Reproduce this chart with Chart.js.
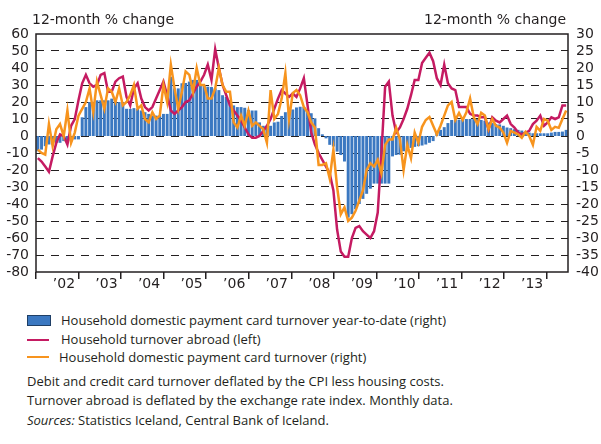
<!DOCTYPE html>
<html>
<head>
<meta charset="utf-8">
<script src="https://cdn.jsdelivr.net/npm/chart.js@4"></script>
<style>
body{margin:0;background:#fff;width:601px;height:444px;overflow:hidden;position:relative;color:#231f20}
#c{position:absolute;left:0;top:0}
.ttl{position:absolute;font:14px/16px "DejaVu Sans",sans-serif;white-space:nowrap}
.lg{position:absolute;font:13px/16px "Open Sans",sans-serif;white-space:nowrap}
.sw{position:absolute;left:27px;width:22px}
</style>
</head>
<body>
<canvas id="c" width="601" height="300"></canvas>
<div class="ttl" style="left:32px;top:11px">12-month % change</div>
<div class="ttl" style="left:424px;top:11px">12-month % change</div>

<div class="sw" style="top:315px;height:9px;background:#3b78c1;border:1px solid #1f3f66"></div>
<div class="lg" style="left:61px;top:312px">Household domestic payment card turnover year-to-date (right)</div>
<div class="sw" style="top:339px;height:2px;background:#c51b62"></div>
<div class="lg" style="left:61px;top:331px">Household turnover abroad (left)</div>
<div class="sw" style="top:356px;height:2px;background:#f7941e"></div>
<div class="lg" style="left:59px;top:349px">Household domestic payment card turnover (right)</div>

<div class="lg" style="left:27px;top:373px">Debit and credit card turnover deflated by the CPI less housing costs.</div>
<div class="lg" style="left:27px;top:392px">Turnover abroad is deflated by the exchange rate index. Monthly data.</div>
<div class="lg" style="left:27px;top:412px"><i>Sources:</i> Statistics Iceland, Central Bank of Iceland.</div>

<script>
// years on the x axis, one block of 12 months each
var years = ["\u201902","\u201903","\u201904","\u201905","\u201906","\u201907",
             "\u201908","\u201909","\u201910","\u201911","\u201912","\u201913"];

// household turnover abroad, left axis
var abroad = [
  -13,-15,-18,-21,-12,-4,1,0,-5,6,10,21,
  31,36,31,29,30,36,37,26,26,32,34,35,
  23,18,28,31,22,17,15,17,22,27,32,24,
  15,13,15,17,20,21,25,29,32,36,42,33,
  51,40,30,24,18,15,12,9,5,1,-1,-1,
  0,3,6,10,16,22,27,25,23,25,23,28,
  34,18,2,-5,-10,-14,-18,-22,-32,-55,-68,-71,
  -71,-60,-54,-53,-56,-58,-60,-56,-45,-10,29,32,
  12,2,5,10,16,24,33,33,43,46,49,44,
  34,30,42,31,28,27,17,17,17,13,12,12,
  11,11,4,11,9,8,10,12,7,5,2,1,
  2,3,7,9,12,6,8,11,10,11,18,18
];

// household domestic payment card turnover, right axis
var domestic = [
  -4,-5,-5.5,3.5,-3,2,3.5,0,7.5,-2,1,6,
  8,10,14,7,16,12,8,14,13,10,14,9,
  10,12,15,8,9,5,4,7,5,6,15,10,
  21,14,8,13,19,18,13,20,15,15,11,11,
  14,20,15,13,13,4,2.5,6,3,7.5,3,4,
  3,2,-2,13.5,5,6.5,11,18.5,5,12.6,13.5,12,
  8.5,7,4,2.5,-8.5,-8.5,-8,-12.5,-4,-15,-23,-21,
  -25,-24,-22,-19,-16,-10,-8,-9,-7,-11,-2.6,-1,
  -1,2.4,-1,-10,-2.6,-6.5,1,-2,2.7,4.7,5.6,3,
  0.5,3,6,9,10,4.7,6.8,4.7,7,11,5.5,3.5,
  6.8,6,2,5,3,2.5,1,-2,1.5,1,0.5,-0.5,
  1.2,0,-2.6,2.7,1.5,5,4.5,1.8,2.7,2.4,5,7.5
];

// household domestic payment card turnover year-to-date, right axis
var ytd = [
  -4.5,-4,-3,-2.5,-2.5,-2,-2,-1.5,-1.5,-1.5,-1,-1,
  5.5,8.5,10,10,10.5,10.5,10.5,10.5,11,10.5,10,10,
  8,8,8.2,8,7.5,7,6.5,6,6,6,6.5,6.5,
  17.4,14,14,15.5,15.6,16,16.5,16.5,15,15,14.5,14.4,
  14,13.5,12,11.5,10.6,9,8.5,8.5,8.3,7.6,7.5,7.5,
  4,3,2.7,3,4,4.2,5.9,7,7.4,7.8,8.4,8.6,
  8.5,7.6,6.7,5.2,2.3,0.5,-0.7,-2.6,-3.1,-4.6,-5.6,-7.5,
  -24,-23,-21.5,-20,-18.5,-17,-15.5,-14,-14,-14,-14,-14,
  -6,-5.6,-5.5,-4.5,-4,-3.5,-3.2,-3,-2.8,-2.5,-2,-1.5,
  1,1.8,2.6,3.8,4.7,4.7,4.8,5,5,5,5,5,
  4.7,4.5,4,3.8,3.5,3.4,3,2.5,2.3,2,1.8,1.6,
  1.2,1,0.8,0.8,0.8,0.8,0.8,1,1.2,1.2,1.3,1.8
];

var leftMin = -80, leftMax = 60, leftStep = 10;
var rightMin = -40, rightMax = 30, rightStep = 5;

var months = [];
years.forEach(function(y, i) {
  for (var m = 1; m <= 12; m++) months.push((2002 + i) + "-" + m);
});

var ink = "#231f20";
var tickFont = {family: "DejaVu Sans", size: 14};

// frame around the plot
var frame = {
  id: "frame",
  afterDatasetsDraw: function(chart) {
    var a = chart.chartArea, ctx = chart.ctx;
    ctx.save();
    ctx.strokeStyle = ink;
    ctx.lineWidth = 1.5;
    ctx.strokeRect(a.left, a.top, a.right - a.left, a.bottom - a.top);
    ctx.restore();
  }
};

new Chart(document.getElementById("c"), {
  type: "bar",
  data: {
    labels: months,
    datasets: [
      {type: "line", label: "Household domestic payment card turnover (right)", data: domestic,
       yAxisID: "y2", borderColor: "#f7941e", borderWidth: 2.5, pointRadius: 0, order: 1},
      {type: "line", label: "Household turnover abroad (left)", data: abroad,
       yAxisID: "y", borderColor: "#c51b62", borderWidth: 2.5, pointRadius: 0, order: 2},
      {label: "Household domestic payment card turnover year-to-date (right)", data: ytd,
       yAxisID: "y2", backgroundColor: "#3b78c1", barPercentage: 0.8, categoryPercentage: 1, order: 3}
    ]
  },
  options: {
    responsive: false,
    devicePixelRatio: 1,
    animation: false,
    layout: {padding: {top: 34, left: 0, right: 0, bottom: 0}},
    plugins: {legend: {display: false}, tooltip: {enabled: false}},
    scales: {
      x: {display: false, offset: true, grid: {display: false}},
      xt: {
        type: "linear", position: "bottom", min: 0, max: 12,
        afterBuildTicks: function(s) {
          var t = [];
          for (var v = 0; v <= 24; v++) t.push({value: v / 2});
          s.ticks = t;
        },
        afterFit: function(s) { s.height = 28; },
        grid: {
          drawOnChartArea: false, drawTicks: true, tickLength: 7, lineWidth: 1.5,
          color: function(c) { return c.tick && c.tick.value % 1 === 0 ? ink : "rgba(0,0,0,0)"; },
          tickColor: function(c) { return c.tick && c.tick.value % 1 === 0 ? ink : "rgba(0,0,0,0)"; }
        },
        border: {display: false},
        ticks: {
          autoSkip: false, maxRotation: 0, padding: -3, labelOffset: -4, color: ink, font: tickFont,
          callback: function(v) { return v % 1 ? years[Math.floor(v)] : ""; }
        }
      },
      y: {
        position: "left", min: leftMin, max: leftMax,
        afterFit: function(s) { s.width = 36; },
        ticks: {stepSize: leftStep, autoSkip: false, padding: 7, color: ink, font: tickFont},
        grid: {
          drawTicks: false, lineWidth: 1,
          color: function(c) {
            var v = c.tick && c.tick.value;
            return (v === leftMax || v === leftMin) ? "rgba(0,0,0,0)" : ink;
          }
        },
        border: {display: false, dash: [8, 7]}
      },
      y2: {
        position: "right", min: rightMin, max: rightMax,
        afterFit: function(s) { s.width = 33; },
        ticks: {stepSize: rightStep, autoSkip: false, padding: 8, color: ink, font: tickFont},
        grid: {display: false, drawTicks: false},
        border: {display: false}
      }
    }
  },
  plugins: [frame]
});
</script>
</body>
</html>
